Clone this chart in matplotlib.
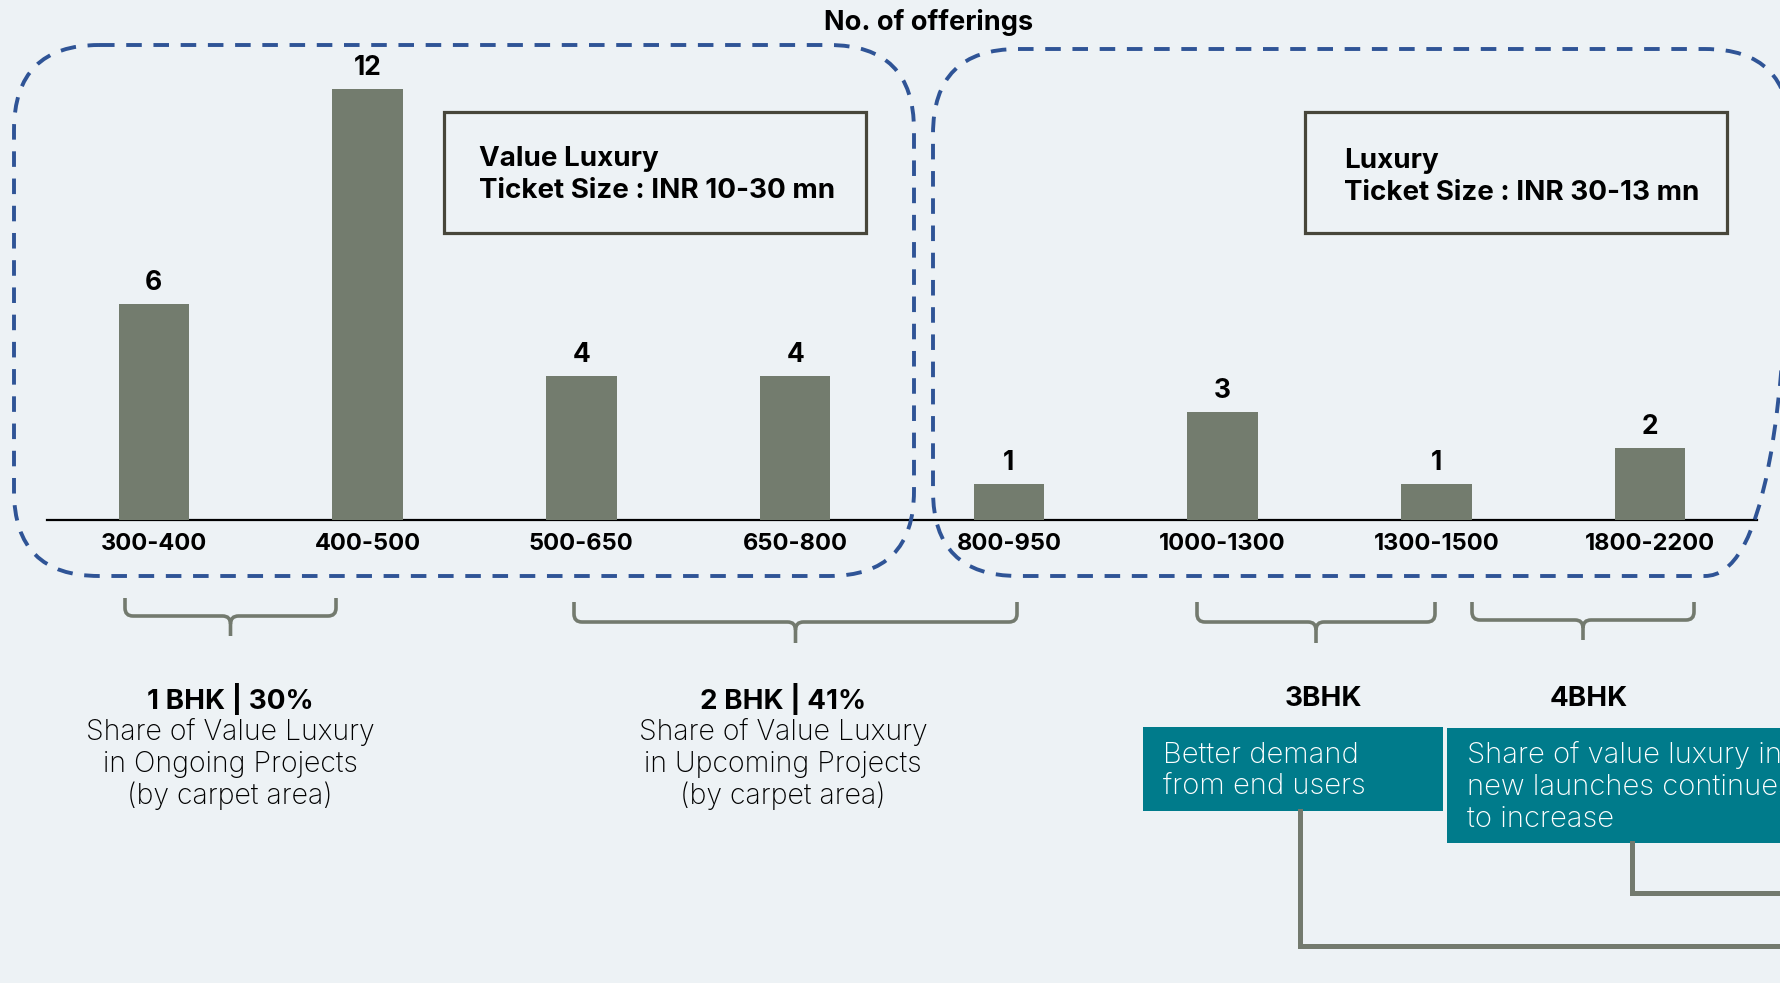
import matplotlib.pyplot as plt
import matplotlib.patches as patches
from matplotlib.path import Path

# Data
areas = ['300-400', '400-500', '500-650', '650-800',
         '800-950', '1000-1300', '1300-1500', '1800-2200']
offerings = [6, 12, 4, 4, 1, 3, 1, 2]

segments = [['Value Luxury', 'Ticket Size : INR 10-30 mn'],
            ['Luxury', 'Ticket Size : INR 30-13 mn']]
bhk_titles = ['1 BHK | 30%', '2 BHK | 41%', '3BHK', '4BHK']
bhk_notes = [['Share of Value Luxury', 'in Ongoing Projects', '(by carpet area)'],
             ['Share of Value Luxury', 'in Upcoming Projects', '(by carpet area)']]
callouts = [['Better demand', 'from end users'],
            ['Share of value luxury in', 'new launches continues', 'to increase']]

colors = {
    'bg': '#edf2f5',
    'bar': '#737c6e',
    'dash': '#2f5496',
    'brace': '#737a6e',
    'frame': '#47463a',
    'teal': '#007b8b',
}
plt.rcParams['font.family'] = ['Inter', 'DejaVu Sans']

W, H = 1780, 983
fig = plt.figure(figsize=(W / 100, H / 100), dpi=100)
fig.patch.set_facecolor(colors['bg'])

# Bar axes: baseline at y=520 px, 47..1757 px wide
base_y = 520
unit = 35.95
top = 14
ax = fig.add_axes([47 / W, (H - base_y) / H, 1710 / W, top * unit / H])
ax.set_facecolor('none')
x = range(len(areas))
bars = ax.bar(x, offerings, width=0.33, color=colors['bar'], zorder=3)
ax.set_xlim(-0.5, 7.5)
ax.set_ylim(0, top)
for b, v in zip(bars, offerings):
    ax.annotate(str(v), (b.get_x() + b.get_width() / 2, v), xytext=(0, 15),
                textcoords='offset points', ha='center', va='center',
                fontsize=19, fontweight='bold', color='black')
ax.set_xticks(list(x))
ax.set_xticklabels(areas, fontsize=17, fontweight='bold')
ax.tick_params(axis='x', length=0, pad=9)
ax.set_yticks([])
for s in ['top', 'right', 'left']:
    ax.spines[s].set_visible(False)
ax.spines['bottom'].set_linewidth(1.6)
ax.spines['bottom'].set_color('black')

# Overlay axes in pixel coordinates
ov = fig.add_axes([0, 0, 1, 1])
ov.set_xlim(0, W)
ov.set_ylim(H, 0)
ov.axis('off')
ov.set_facecolor('none')

ov.text(929, 22, 'No. of offerings', ha='center', va='center',
        fontsize=19.5, fontweight='bold')

# dashed rounded groups
for (x0, y0, x1, y1) in [(14, 45, 914, 576), (933, 49, 1790, 576)]:
    ov.add_patch(patches.FancyBboxPatch(
        (x0, y0), x1 - x0, y1 - y0,
        boxstyle='round,pad=0,rounding_size=85',
        fill=False, edgecolor=colors['dash'], linewidth=2.8,
        linestyle=(0, (4, 3)), zorder=2))

# segment frames
for (x0, y0, x1, y1), lines, tx, ty in zip([(444, 112, 866, 233), (1305, 112, 1727, 233)],
                                           segments, [479, 1344], [158.5, 160.5]):
    ov.add_patch(patches.Rectangle((x0, y0), x1 - x0, y1 - y0, fill=False,
                                   edgecolor=colors['frame'], linewidth=2.3))
    for i, line in enumerate(lines):
        ov.text(tx, ty + i * 32, line, ha='left', va='center', fontsize=20,
                fontweight='bold')


def brace(x0, x1, ytop, yh, ytip):
    xc = (x0 + x1) / 2
    r = 8
    verts = [(x0, ytop), (x0, yh - r), (x0, yh), (x0 + r, yh),
             (xc - r, yh), (xc, yh), (xc, yh + r), (xc, ytip)]
    codes = [Path.MOVETO, Path.LINETO, Path.CURVE3, Path.CURVE3,
             Path.LINETO, Path.CURVE3, Path.CURVE3, Path.LINETO]
    verts2 = [(x1, ytop), (x1, yh - r), (x1, yh), (x1 - r, yh),
              (xc + r, yh), (xc, yh), (xc, yh + r)]
    codes2 = [Path.MOVETO, Path.LINETO, Path.CURVE3, Path.CURVE3,
              Path.LINETO, Path.CURVE3, Path.CURVE3]
    for v, c in [(verts, codes), (verts2, codes2)]:
        ov.add_patch(patches.PathPatch(Path(v, c), fill=False,
                                       edgecolor=colors['brace'], linewidth=2.6))


brace(125, 336, 598, 616, 636)
brace(574, 1017, 602, 622, 643)
brace(1197, 1435, 602, 622, 643)
brace(1472, 1694, 602, 620, 640)

# BHK titles
for txt, cx in zip(bhk_titles, [230, 783, 1323, 1589]):
    ov.text(cx, 699, txt, ha='center', va='center', fontsize=20, fontweight='bold')
for lines, cx in zip(bhk_notes, [230, 783]):
    for i, line in enumerate(lines):
        ov.text(cx, 732 + i * 32, line, ha='center', va='center', fontsize=20.5,
                fontweight='light')

# teal callouts
for (x0, y0, x1, y1), lines in zip([(1143, 727, 1443, 811), (1447, 728, 1800, 843)],
                                   callouts):
    ov.add_patch(patches.Rectangle((x0, y0), x1 - x0, y1 - y0,
                                   facecolor=colors['teal'], edgecolor='none'))
    for i, line in enumerate(lines):
        ov.text(x0 + 20, 755 + i * 32, line, ha='left', va='center', fontsize=21,
                color='white', fontweight='light')

# connectors
ov.plot([1300, 1300, 1790], [811, 946, 946], color=colors['brace'], linewidth=3.6,
        solid_joinstyle='miter')
ov.plot([1632, 1632, 1790], [843, 893, 893], color=colors['brace'], linewidth=3.6,
        solid_joinstyle='miter')

fig.savefig('out.png', dpi=100, facecolor=fig.get_facecolor())
